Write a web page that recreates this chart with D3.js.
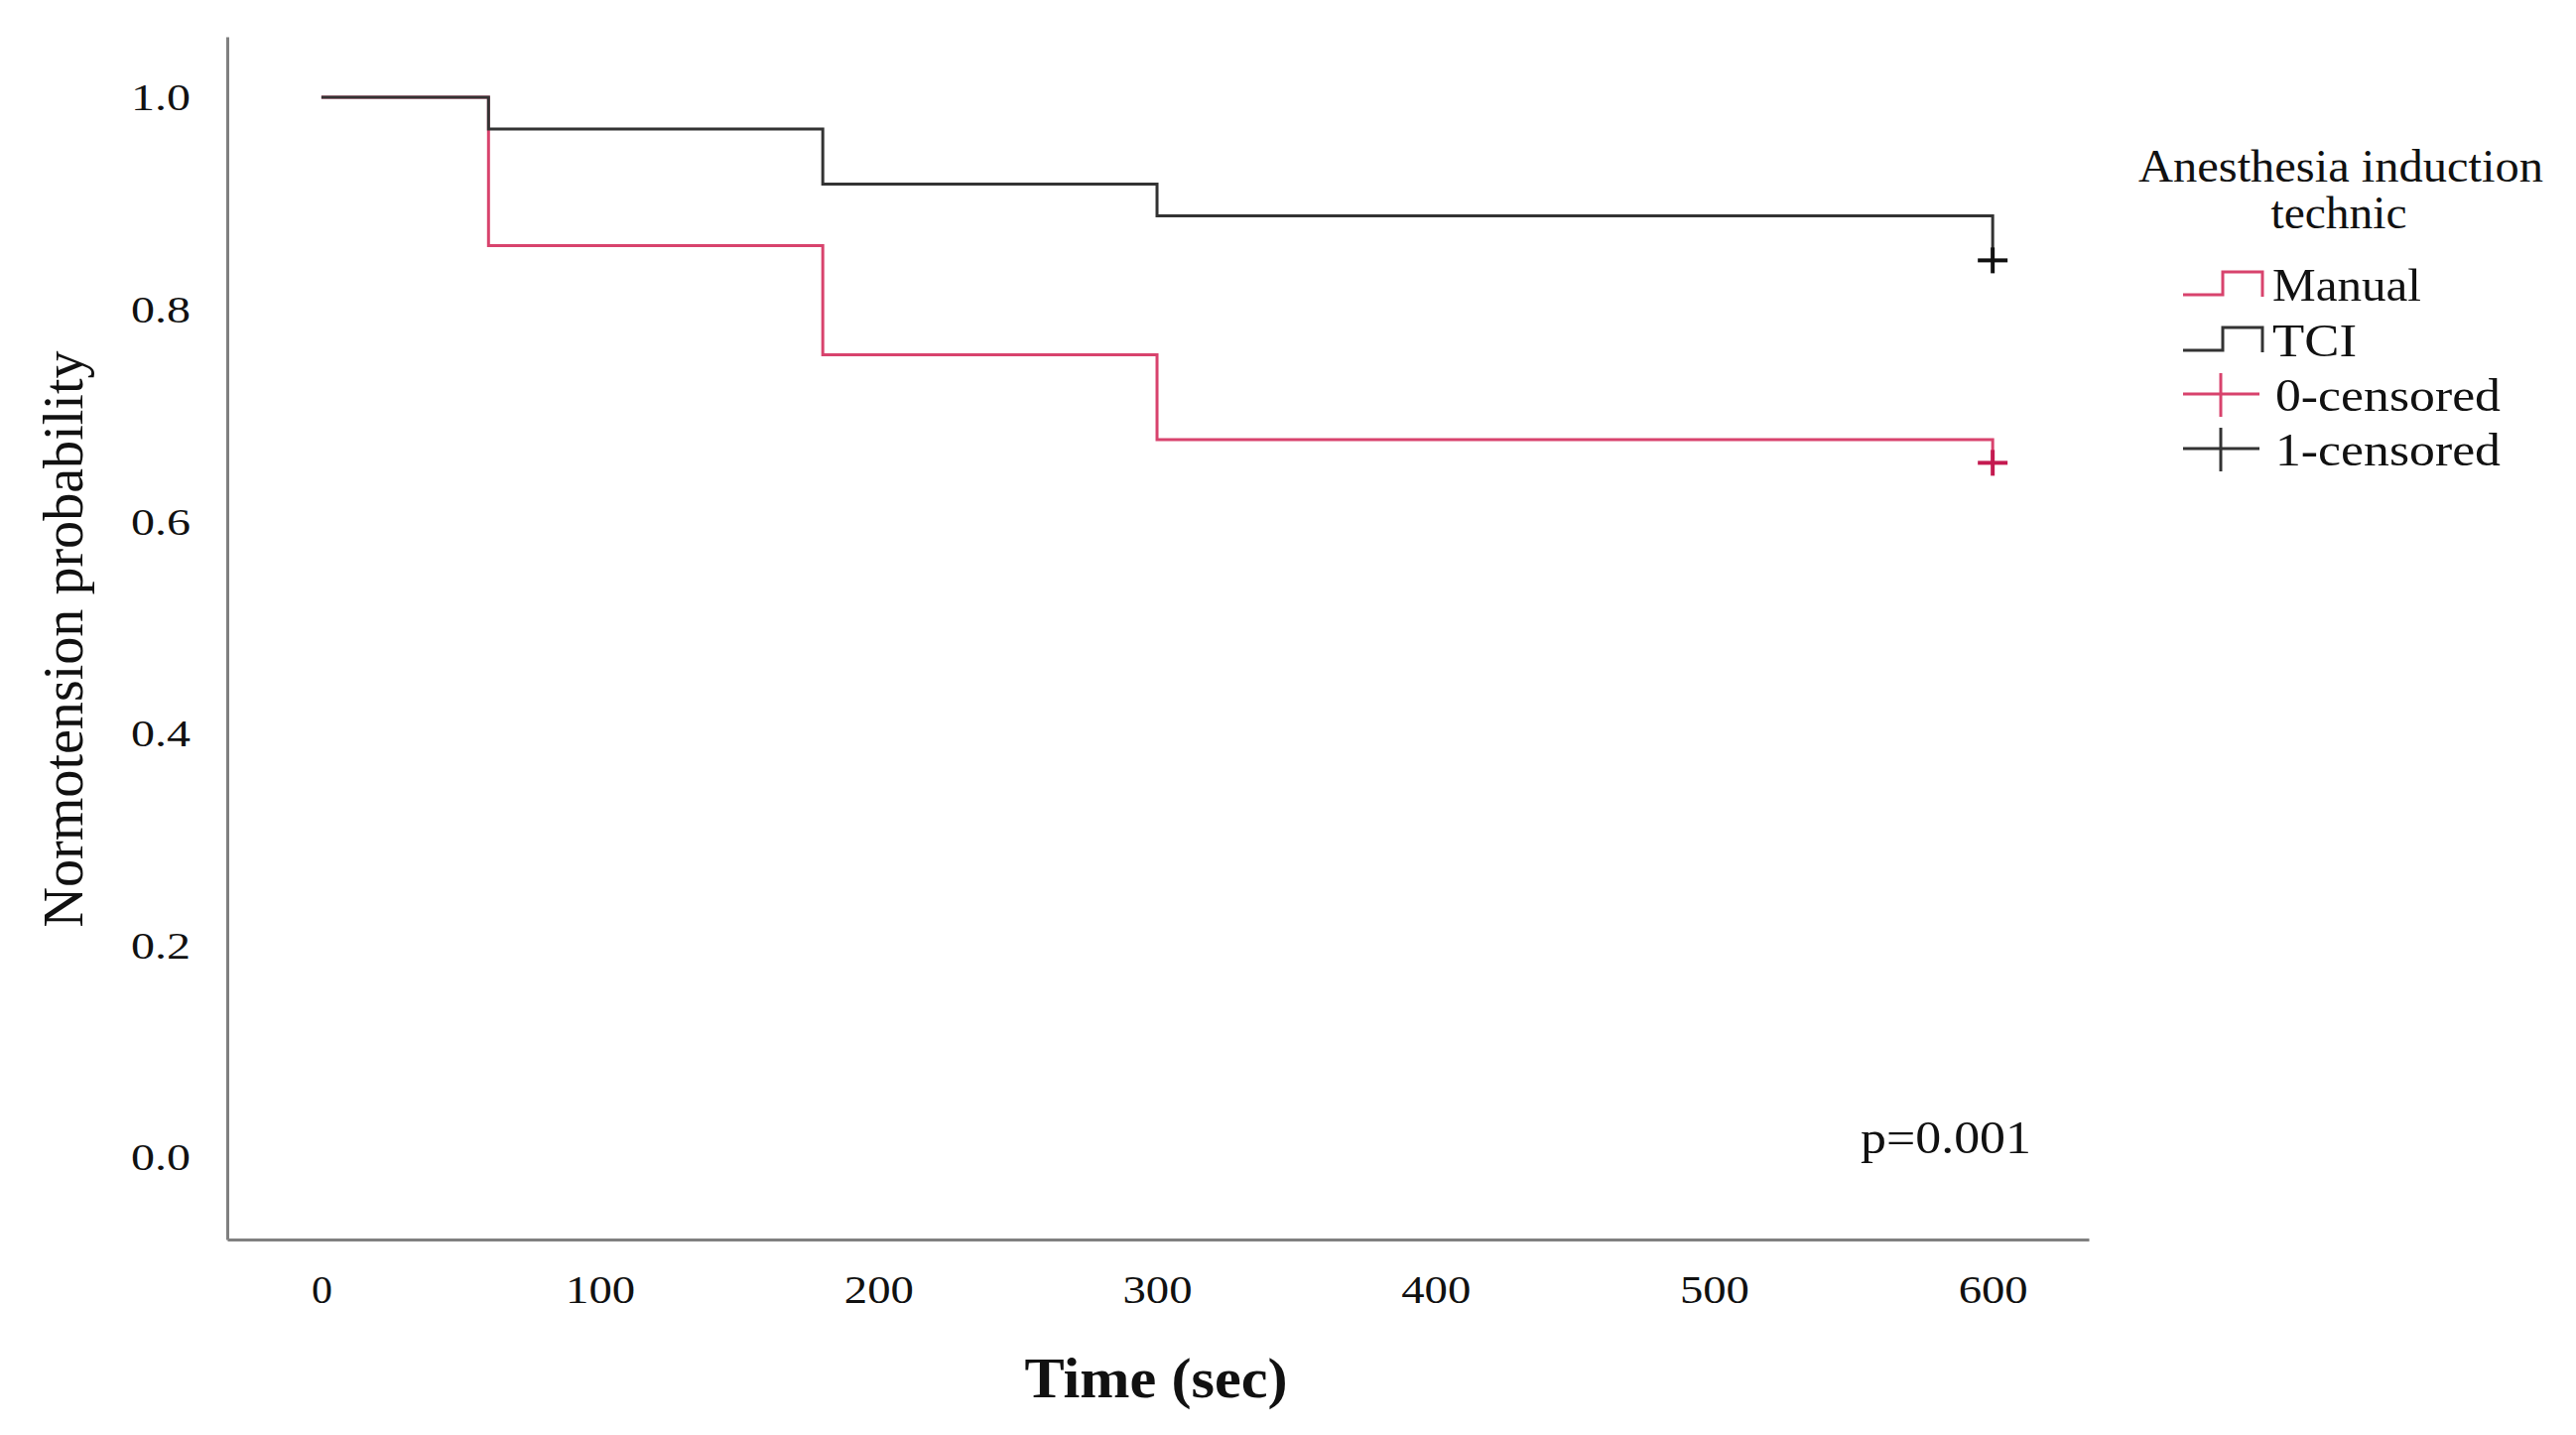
<!DOCTYPE html>
<html><head><meta charset="utf-8">
<script src="https://cdn.jsdelivr.net/npm/d3@7"></script>
<style>html,body{margin:0;padding:0;background:#fff;}svg{display:block;}</style>
</head><body>
<script>
// ---- data ----
const times = [0, 60, 180, 300, 600];
const manualSurv = [1.0, 0.86, 0.757, 0.677, 0.655];
const tciSurv = [1.0, 0.970, 0.918, 0.888, 0.846];
const censorTime = 600;
const xTicks = [0, 100, 200, 300, 400, 500, 600];
const yTicks = [0.0, 0.2, 0.4, 0.6, 0.8, 1.0];
const seriesNames = ["Manual", "TCI"];
const censorNames = ["0-censored", "1-censored"];
const legendTitle = ["Anesthesia induction", "technic"];
const pText = "p=0.001";

const W = 2596, H = 1446;
const FONT = "'Liberation Serif','Times New Roman',serif";
const PINK = "#d8436d", DARK = "#333333", PINK_M = "#c41a50", DARK_M = "#111";

const svg = d3.select("body").append("svg").attr("width", W).attr("height", H)
  .style("font-family", FONT);

const x = d3.scaleLinear().domain([-33.8, 634.5]).range([229, 2105]);
const y = d3.scaleLinear().domain([-0.0777, 1.057]).range([1249, 37]);

// axes
const gx = svg.append("g").attr("transform", "translate(0,1249)")
  .call(d3.axisBottom(x).tickValues(xTicks).tickSize(0).tickFormat(d3.format("d")));
gx.select(".domain").attr("stroke", "#808080").attr("stroke-width", 3);
gx.selectAll("text").attr("y", 0).attr("dy", 0)
  .attr("transform", "translate(0,64)")
  .style("font-size", "41px").style("font-family", FONT).attr("fill", "#111")
  .attr("textLength", d => String(d).length === 1 ? 21 : 70)
  .attr("lengthAdjust", "spacingAndGlyphs");

const gy = svg.append("g").attr("transform", "translate(229,0)")
  .call(d3.axisLeft(y).tickValues(yTicks).tickSize(0).tickFormat(d3.format(".1f")));
gy.select(".domain").attr("stroke", "#808080").attr("stroke-width", 3);
gy.selectAll("text").attr("x", -37).attr("dy", "0.34em")
  .style("font-size", "38px").style("font-family", FONT).attr("fill", "#111")
  .attr("textLength", 60).attr("lengthAdjust", "spacingAndGlyphs");

// axis titles
svg.append("text").attr("x", 1165).attr("y", 1408).attr("text-anchor", "middle")
  .style("font-size", "57px").style("font-weight", "bold").attr("fill", "#111")
  .attr("textLength", 265).attr("lengthAdjust", "spacingAndGlyphs")
  .text("Time (sec)");
svg.append("text").attr("transform", "translate(83,644) rotate(-90)")
  .attr("text-anchor", "middle").style("font-size", "58px").attr("fill", "#111")
  .attr("textLength", 581).attr("lengthAdjust", "spacingAndGlyphs")
  .text("Normotension probability");

// curves
const line = d3.line().x(d => x(d[0])).y(d => y(d[1])).curve(d3.curveStepAfter);
const series = [
  {vals: manualSurv, color: PINK, mcolor: PINK_M},
  {vals: tciSurv, color: DARK, mcolor: DARK_M}
];
series.forEach(s => {
  svg.append("path").datum(times.map((t, i) => [t, s.vals[i]]))
    .attr("d", line).attr("fill", "none").attr("stroke", s.color).attr("stroke-width", 3);
});
// censor marks
series.forEach(s => {
  const cx = x(censorTime), cy = y(s.vals[s.vals.length - 1]);
  const g = svg.append("g").attr("stroke", s.mcolor).attr("stroke-width", 4);
  g.append("line").attr("x1", cx - 15).attr("x2", cx + 15).attr("y1", cy).attr("y2", cy);
  g.append("line").attr("x1", cx).attr("x2", cx).attr("y1", cy - 13).attr("y2", cy + 13);
});

// p value
svg.append("text").attr("x", 1875).attr("y", 1162).style("font-size", "46px").attr("fill", "#111")
  .attr("textLength", 172).attr("lengthAdjust", "spacingAndGlyphs").text(pText);

// legend
const lg = svg.append("g").attr("transform", "translate(2200,0)");
lg.append("text").attr("x", 159).attr("y", 183).attr("text-anchor", "middle")
  .style("font-size", "47px").attr("fill", "#111")
  .attr("textLength", 408).attr("lengthAdjust", "spacingAndGlyphs").text(legendTitle[0]);
lg.append("text").attr("x", 157).attr("y", 230).attr("text-anchor", "middle")
  .style("font-size", "47px").attr("fill", "#111")
  .attr("textLength", 137).attr("lengthAdjust", "spacingAndGlyphs").text(legendTitle[1]);

const stepY = [297, 353];
const stepW = [150, 85];
seriesNames.forEach((name, i) => {
  const b = stepY[i];
  lg.append("path").attr("d", `M0,${b} H40 V${b - 23} H80 V${b + 2}`)
    .attr("fill", "none").attr("stroke", series[i].color).attr("stroke-width", 3);
  lg.append("text").attr("x", 90).attr("y", b + 6).style("font-size", "47px").attr("fill", "#111")
    .attr("textLength", stepW[i]).attr("lengthAdjust", "spacingAndGlyphs").text(name);
});
const cenY = [397, 452];
censorNames.forEach((name, i) => {
  const b = cenY[i];
  const g = lg.append("g").attr("stroke", i === 0 ? PINK : "#333").attr("stroke-width", 3);
  g.append("line").attr("x1", 0).attr("x2", 77).attr("y1", b).attr("y2", b);
  g.append("line").attr("x1", 38).attr("x2", 38).attr("y1", b - 21).attr("y2", b + 23);
  lg.append("text").attr("x", 93).attr("y", b + 17).style("font-size", "47px").attr("fill", "#111")
    .attr("textLength", 227).attr("lengthAdjust", "spacingAndGlyphs").text(name);
});
</script>
</body></html>
